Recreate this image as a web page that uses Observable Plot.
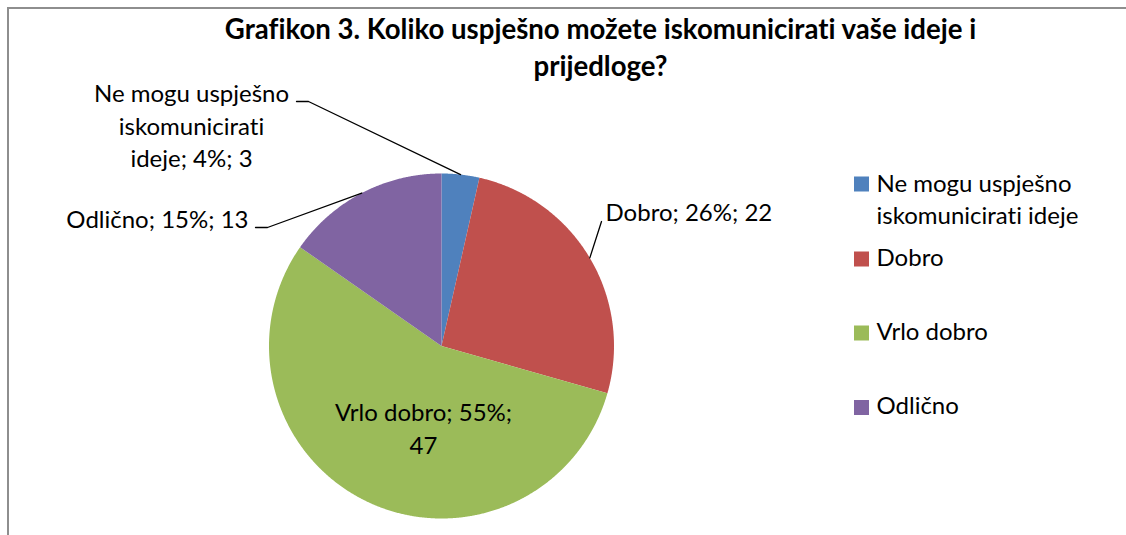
<!DOCTYPE html>
<html>
<head>
<meta charset="utf-8">
<script src="https://cdn.jsdelivr.net/npm/d3@7"></script>
<script src="https://cdn.jsdelivr.net/npm/@observablehq/plot@0.6"></script>
<style>
  html, body { margin: 0; padding: 0; background: #fff; }
  #wrap { position: relative; width: 1126px; height: 535px; overflow: hidden; }
  #frame { position: absolute; left: 7px; top: 7px; width: 1300px; height: 700px;
           border-left: 2px solid #8e8e8e; border-top: 2px solid #8e8e8e; box-sizing: border-box; }
  #chart { position: absolute; left: 0; top: 0; }
  #chart text { font-variant-ligatures: none; font-feature-settings: "liga" 0, "clig" 0; }
</style>
</head>
<body>
<div id="wrap"><div id="frame"></div><div id="chart"></div></div>
<script>
// ---- data ----
const categories = ["Ne mogu uspješno iskomunicirati ideje", "Dobro", "Vrlo dobro", "Odlično"];
const counts = [3, 22, 47, 13];
const percents = [4, 26, 55, 15];
const colors = ["#4F81BD", "#C0504D", "#9BBB59", "#8064A2"];
const titleLines = ["Grafikon 3. Koliko uspješno možete iskomunicirati vaše ideje i", "prijedloge?"];
const labelLines = [
  ["Ne mogu uspješno", "iskomunicirati", "ideje; 4%; 3"],
  ["Dobro; 26%; 22"],
  ["Vrlo dobro; 55%;", "47"],
  ["Odlično; 15%; 13"]
];
const legendLines = [["Ne mogu uspješno", "iskomunicirati ideje"], ["Dobro"], ["Vrlo dobro"], ["Odlično"]];

// ---- layout ----
const W = 1126, H = 535;
const CX = 441, CY = 345.5, R = 172.5;
const FONT = "Lato, 'Open Sans', sans-serif";
const FS = 24, TFS = 27.6;

const rows = categories.map((c, i) => ({cat: c, count: counts[i], pct: percents[i], color: colors[i]}));
const arcs = d3.pie().sort(null).value(d => d.count)(rows);
const pt = a => [CX + R * Math.sin(a), CY - R * Math.cos(a)];

// slice polygons
const slices = arcs.map(a => {
  const pts = [[CX, CY]];
  const n = Math.max(4, Math.ceil((a.endAngle - a.startAngle) / 0.005));
  for (let k = 0; k <= n; k++) pts.push(pt(a.startAngle + (a.endAngle - a.startAngle) * k / n));
  pts.push([CX, CY]);
  return {color: a.data.color, pts};
});
const mid = a => (a.startAngle + a.endAngle) / 2;

// label placement (pixel layout)
const labelPos = [
  {x: 191, anchor: "middle", base: [101.5, 134, 166.5], elbow: [[296, 101], [308, 101]]},
  {x: 605, anchor: "start", base: [220.5], elbow: [[601, 221]]},
  {x: 423, anchor: "middle", base: [420, 453], elbow: null},
  {x: 248, anchor: "end", base: [227], elbow: [[255, 227], [267, 227]]}
];
const legendBase = [[191.5, 223], [265], [339], [413]];
const legendSq = [184, 259, 333, 407.5];

const titleTexts = titleLines.map((t, i) => ({t, x: 600, y: [38, 75][i]}));
const texts = [];
labelLines.forEach((ls, i) => ls.forEach((t, j) =>
  texts.push({t, x: labelPos[i].x, y: labelPos[i].base[j], anchor: labelPos[i].anchor})));
legendLines.forEach((ls, i) => ls.forEach((t, j) =>
  texts.push({t, x: 876, y: legendBase[i][j], anchor: "start"})));

const leaders = [];
arcs.forEach((a, i) => {
  const e = labelPos[i].elbow;
  if (!e) return;
  const pts = [...e, pt(mid(a))];
  pts.forEach(p => leaders.push({id: i, x: p[0], y: p[1]}));
});

const legendRects = rows.map((r, i) => ({color: r.color, x1: 854, x2: 869, y1: legendSq[i] - 7.5, y2: legendSq[i] + 7.5}));

const marks = [];
slices.forEach(s => marks.push(Plot.line(s.pts, {x: d => d[0], y: d => d[1], fill: s.color, stroke: "none"})));
marks.push(Plot.line(leaders, {x: "x", y: "y", z: "id", stroke: "#000", strokeWidth: 1.3}));
marks.push(Plot.rect(legendRects, {x1: "x1", x2: "x2", y1: "y1", y2: "y2", fill: d => d.color}));
marks.push(Plot.text(titleTexts, {
  x: "x", y: d => d.y - 0.32 * TFS, text: "t", textAnchor: "middle", lineAnchor: "middle",
  fontSize: TFS, fontWeight: "bold", fill: "#000", fontFamily: FONT
}));
["start", "middle", "end"].forEach(anc => {
  marks.push(Plot.text(texts.filter(d => d.anchor === anc), {
    x: "x", y: d => d.y - 0.32 * FS, text: "t", textAnchor: anc, lineAnchor: "middle",
    fontSize: FS, fontWeight: "normal", fill: "#000", fontFamily: FONT
  }));
});

const chart = Plot.plot({
  width: W, height: H,
  marginTop: 0, marginBottom: 0, marginLeft: 0, marginRight: 0,
  x: {type: "linear", domain: [0, W], range: [0, W], axis: null},
  y: {type: "linear", domain: [0, H], range: [0, H], axis: null},
  style: {background: "transparent", fontFamily: FONT},
  marks
});
document.getElementById("chart").appendChild(chart);
</script>
</body>
</html>
